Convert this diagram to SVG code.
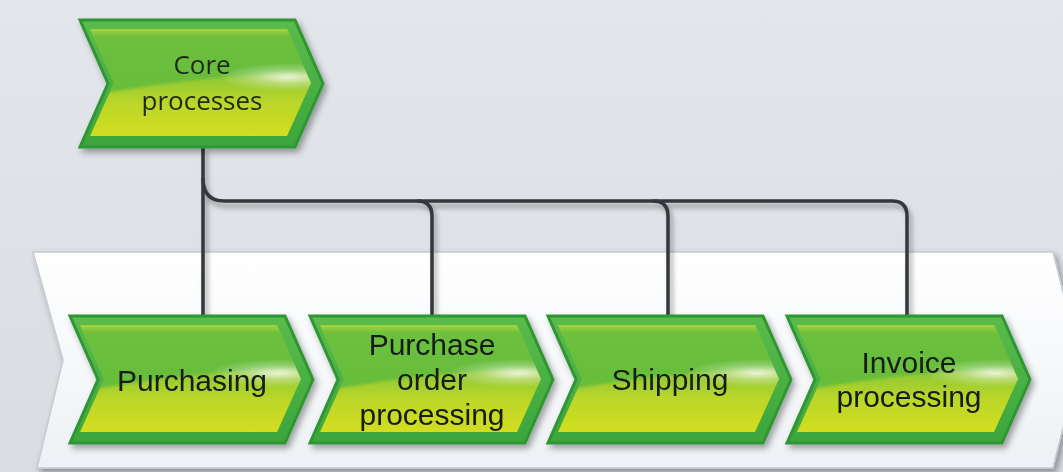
<svg xmlns="http://www.w3.org/2000/svg" xmlns:xlink="http://www.w3.org/1999/xlink" width="1063" height="472" viewBox="0 0 1063 472">
<defs>
  <linearGradient id="bg" x1="0" y1="0" x2="0" y2="1">
    <stop offset="0" stop-color="#e3e6ea"/>
    <stop offset="1" stop-color="#d9dde2"/>
  </linearGradient>
  <linearGradient id="bandFill" x1="0" y1="0" x2="0" y2="1">
    <stop offset="0" stop-color="#ffffff"/>
    <stop offset="1" stop-color="#eef1f5"/>
  </linearGradient>
  <linearGradient id="frame" gradientUnits="userSpaceOnUse" x1="0" y1="0" x2="0" y2="127">
    <stop offset="0" stop-color="#5bbb4c"/>
    <stop offset="1" stop-color="#3ba63c"/>
  </linearGradient>
  <linearGradient id="lower" gradientUnits="userSpaceOnUse" x1="0" y1="55" x2="0" y2="116">
    <stop offset="0" stop-color="#8cc735"/>
    <stop offset="0.45" stop-color="#bbd62a"/>
    <stop offset="1" stop-color="#d2de1f"/>
  </linearGradient>
  <linearGradient id="upper" gradientUnits="userSpaceOnUse" x1="0" y1="9" x2="0" y2="72">
    <stop offset="0" stop-color="#a9d43c"/>
    <stop offset="0.12" stop-color="#6dc03e"/>
    <stop offset="1" stop-color="#66bc3a"/>
  </linearGradient>
  <radialGradient id="gloss" gradientUnits="userSpaceOnUse" cx="208" cy="57" r="70" gradientTransform="translate(208 57) scale(1 0.2) translate(-208 -57)">
    <stop offset="0" stop-color="#ffffff" stop-opacity="0.8"/>
    <stop offset="0.5" stop-color="#ffffff" stop-opacity="0.3"/>
    <stop offset="1" stop-color="#ffffff" stop-opacity="0"/>
  </radialGradient>
  <clipPath id="innerClip">
    <polygon points="10,9 207,9 231,63 207,116 10,116 34,63"/>
  </clipPath>
  <filter id="shadow" x="-10%" y="-10%" width="130%" height="140%">
    <feDropShadow dx="3" dy="4" stdDeviation="3" flood-color="#000" flood-opacity="0.35"/>
  </filter>
  <filter id="lineShadow" x="-10%" y="-20%" width="130%" height="150%">
    <feDropShadow dx="3" dy="5" stdDeviation="2.5" flood-color="#000" flood-opacity="0.35"/>
  </filter>
  <filter id="soft" x="-5%" y="-20%" width="110%" height="140%">
    <feGaussianBlur stdDeviation="1.5"/>
  </filter>
  <g id="chev">
    <polygon points="0,0 215,0 243,63.5 215,127 0,127 28,63.5" fill="url(#frame)" stroke="#2f9633" stroke-width="3" stroke-linejoin="miter"/>
    <g clip-path="url(#innerClip)">
      <rect x="0" y="0" width="243" height="127" fill="url(#lower)"/>
      <path d="M0,0 H243 V50 L226,52 Q130,55 30,72 L0,74 Z" fill="url(#upper)" filter="url(#soft)"/>
      <ellipse cx="208" cy="57" rx="70" ry="14" fill="url(#gloss)"/>
    </g>
  </g>
  <style>
    .lbl { font-family: "Liberation Sans", Arial, sans-serif; font-size: 30px; fill: #161a16; text-anchor: middle; }
    .core { font-family: "Open Sans", "DejaVu Sans", sans-serif; font-size: 26px; fill: #1c2a14; text-anchor: middle; }
    .conn { fill: none; stroke: #33373b; stroke-width: 3.5; }
  </style>
</defs>

<rect x="0" y="0" width="1063" height="472" fill="url(#bg)"/>

<g id="band" filter="url(#shadow)">
  <polygon points="33,252 1053,252 1080,360 1053,468 37,468 63,360" fill="url(#bandFill)" stroke="#c6cacf" stroke-width="1.5"/>
</g>

<g id="connectors" filter="url(#lineShadow)">
  <path class="conn" d="M203,147 V316"/>
  <path class="conn" d="M203,178 Q203,201 224,201 H417 Q432,201 432,216 V316"/>
  <path class="conn" d="M417,201 H653 Q668,201 668,216 V316"/>
  <path class="conn" d="M653,201 H892 Q907,201 907,216 V316"/>
</g>

<g id="node-core" transform="translate(80,20)" filter="url(#shadow)">
  <use xlink:href="#chev"/>
  <text class="core" x="122" y="54">Core</text>
  <text class="core" x="122" y="90">processes</text>
</g>

<g id="node-purchasing" transform="translate(70,316)" filter="url(#shadow)">
  <use xlink:href="#chev"/>
  <text class="lbl" x="122" y="75">Purchasing</text>
</g>

<g id="node-purchase-order" transform="translate(310,316)" filter="url(#shadow)">
  <use xlink:href="#chev"/>
  <text class="lbl" x="122" y="39">Purchase</text>
  <text class="lbl" x="122" y="74">order</text>
  <text class="lbl" x="122" y="109">processing</text>
</g>

<g id="node-shipping" transform="translate(548,316)" filter="url(#shadow)">
  <use xlink:href="#chev"/>
  <text class="lbl" x="122" y="74">Shipping</text>
</g>

<g id="node-invoice" transform="translate(787,316)" filter="url(#shadow)">
  <use xlink:href="#chev"/>
  <text class="lbl" x="122" y="57">Invoice</text>
  <text class="lbl" x="122" y="91">processing</text>
</g>
</svg>
